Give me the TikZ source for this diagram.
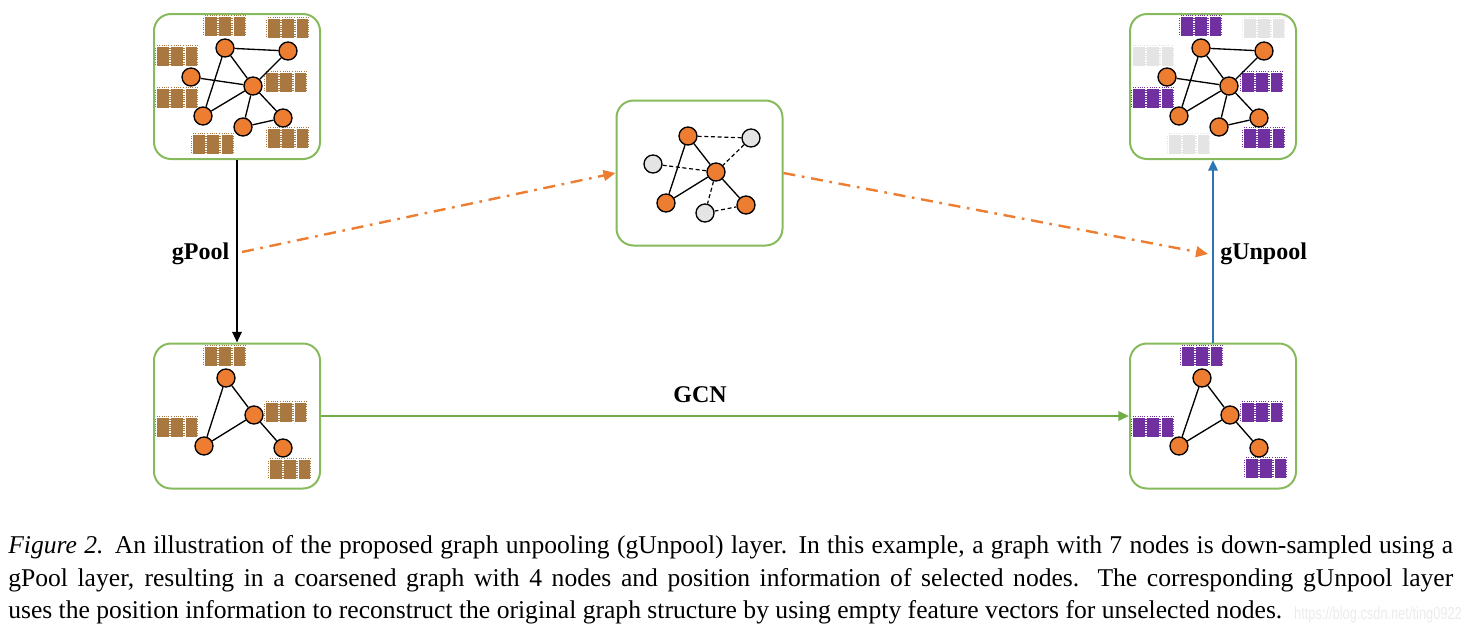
\documentclass[tikz,border=0pt]{standalone}
\usepackage{fontspec}
\setmainfont{Liberation Serif}
\newfontfamily\wmfont{Liberation Sans}
\usetikzlibrary{arrows.meta}
\definecolor{gbox}{RGB}{134,186,92}
\definecolor{gline}{RGB}{112,173,71}
\definecolor{orng}{RGB}{237,125,49}
\definecolor{brn}{RGB}{168,120,64}
\definecolor{purp}{RGB}{112,48,160}
\definecolor{lgray}{RGB}{228,228,228}
\definecolor{blu}{RGB}{46,117,182}
\newcommand\fblk[3]{%
  \foreach \k in {0,1,2}{%
    \fill[#3] ({#1+\k*14.25},#2) rectangle ++(11.5,19);
    \draw[#3, line width=1.2pt, dash pattern=on 0.4pt off 1.3pt] ({#1+\k*14.25},{#2-1.5}) -- ++(11.5,0);
    \draw[#3, line width=1.2pt, dash pattern=on 0.4pt off 1.3pt] ({#1+\k*14.25-1.5},{#2+1}) -- ++(0,17);
  }
  \draw[#3, line width=1.2pt, dash pattern=on 0.4pt off 1.3pt] ({#1+40},{#2+1}) -- ++(0,17);
  }
\tikzset{
  box/.style={draw=gbox, line width=1.5pt, rounded corners=12.75pt, minimum width=124.5pt, minimum height=108.75pt, inner sep=0pt},
  gn/.style={circle, draw=black, fill=orng, line width=1pt, minimum size=13.5pt, inner sep=0pt},
  gg/.style={gn, fill=lgray},
  edge/.style={draw=black, line width=1pt},
  dedge/.style={draw=black, line width=0.9pt, dash pattern=on 3pt off 2pt},
  lbl/.style={font=\bfseries\fontsize{18pt}{20pt}\selectfont, inner sep=0pt},
  captxt/.style={font=\fontsize{19.2pt}{22pt}\selectfont, inner sep=0pt, anchor=base west},
  odd/.style={draw=orng, line width=1.8pt, dash pattern=on 9pt off 5pt on 2pt off 5pt, -{Triangle[length=9pt,width=8pt]}}
}
\begin{document}
\begin{tikzpicture}[x=0.75pt,y=-0.75pt]
\useasboundingbox (0,0) rectangle (1468,636);
% boxes
\node[box] (A) at (237,86.5) {};
\node[box] (M) at (699.5,173) {};
\node[box] (C) at (1213,86.5) {};
\node[box] (B) at (237,416) {};
\node[box] (D) at (1213,416) {};
% feature blocks A
\fblk{205}{17}{brn}\fblk{268}{19}{brn}\fblk{157}{47}{brn}\fblk{266}{73}{brn}
\fblk{157}{89}{brn}\fblk{193}{135}{brn}\fblk{268}{129}{brn}
% feature blocks C
\fblk{1181}{17}{purp}\fblk{1244}{19}{lgray}\fblk{1133}{47}{lgray}\fblk{1242}{73}{purp}
\fblk{1133}{89}{purp}\fblk{1169}{135}{lgray}\fblk{1244}{129}{purp}
% feature blocks B
\fblk{205}{347}{brn}\fblk{266}{403}{brn}\fblk{157}{418}{brn}\fblk{270}{460}{brn}
% feature blocks D
\fblk{1182}{347}{purp}\fblk{1242}{403}{purp}\fblk{1133}{418}{purp}\fblk{1246}{459}{purp}
% graph A
\node[gn] (a1) at (225,48) {};
\node[gn] (a2) at (288,51) {};
\node[gn] (a3) at (191,77) {};
\node[gn] (a4) at (253,86) {};
\node[gn] (a5) at (203,116) {};
\node[gn] (a6) at (243,127) {};
\node[gn] (a7) at (283,118) {};
\draw[edge] (a1)--(a2) (a1)--(a4) (a1)--(a5) (a2)--(a4) (a3)--(a4) (a4)--(a5) (a4)--(a6) (a4)--(a7) (a6)--(a7);
% graph C
\node[gn] (c1) at (1201,48) {};
\node[gn] (c2) at (1264,51) {};
\node[gn] (c3) at (1167,77) {};
\node[gn] (c4) at (1229,86) {};
\node[gn] (c5) at (1179,116) {};
\node[gn] (c6) at (1219,127) {};
\node[gn] (c7) at (1259,118) {};
\draw[edge] (c1)--(c2) (c1)--(c4) (c1)--(c5) (c2)--(c4) (c3)--(c4) (c4)--(c5) (c4)--(c6) (c4)--(c7) (c6)--(c7);
% graph M
\node[gn] (m1) at (688,136) {};
\node[gg] (m2) at (751,138) {};
\node[gg] (m3) at (653,164) {};
\node[gn] (m4) at (716,172) {};
\node[gn] (m5) at (666,203) {};
\node[gg] (m6) at (705,213) {};
\node[gn] (m7) at (746,205) {};
\draw[edge] (m1)--(m4) (m1)--(m5) (m4)--(m5) (m4)--(m7);
\draw[dedge] (m1)--(m2) (m2)--(m4) (m3)--(m4) (m4)--(m6) (m6)--(m7);
% graph B
\node[gn] (b1) at (226,378) {};
\node[gn] (b4) at (254,415) {};
\node[gn] (b5) at (204,446) {};
\node[gn] (b7) at (283,448) {};
\draw[edge] (b1)--(b4) (b1)--(b5) (b4)--(b5) (b4)--(b7);
% graph D
\node[gn] (d1) at (1202,378) {};
\node[gn] (d4) at (1230,415) {};
\node[gn] (d5) at (1179,446) {};
\node[gn] (d7) at (1259,448) {};
\draw[edge] (d1)--(d4) (d1)--(d5) (d4)--(d5) (d4)--(d7);
% main arrows
\draw[black, line width=1.5pt, -{Triangle[length=8pt,width=7pt]}] (A.south) -- (B.north);
\draw[blu, line width=1.8pt, -{Triangle[length=8pt,width=7pt]}] (D.north) -- (C.south);
\draw[gline, line width=1.8pt, -{Triangle[length=8pt,width=7pt]}] (B.east) -- (D.west);
% labels
\node[lbl] (lp) at (200.5,254) {gPool};
\node[lbl, anchor=west] (lu) at (1220,254) {gUnpool};
\node[lbl] (lg) at (700,395) {GCN};
% orange dash-dot
\coordinate (os) at (242,252);
\coordinate (oe) at (1208,254);
\draw[odd] (os) -- (M.west);
\draw[odd] (M.east) -- (oe);
% caption
\node[captxt] (c1l) at (8,553) {\makebox[1083.75pt][s]{\textit{Figure 2.} An illustration of the proposed graph unpooling (gUnpool) layer. In this example, a graph with 7 nodes is down-sampled using a}};
\node[captxt] (c2l) at (8,586) {\makebox[1083.75pt][s]{gPool layer, resulting in a coarsened graph with 4 nodes and position information of selected nodes. The corresponding gUnpool layer}};
\node[captxt] (c3l) at (8,618) {uses the position information to reconstruct the original graph structure by using empty feature vectors for unselected nodes.};
\node[anchor=base east, inner sep=0pt, text=black!8, font=\wmfont\fontsize{13pt}{15pt}\selectfont, xscale=0.74] (wm) at (1462,619) {https://blog.csdn.net/ting0922};
\end{tikzpicture}
\end{document}
